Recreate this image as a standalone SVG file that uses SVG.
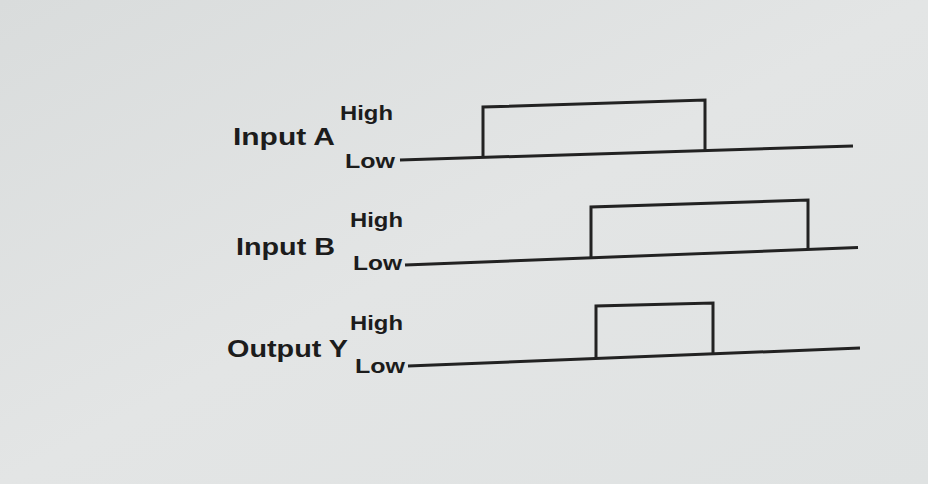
<svg xmlns="http://www.w3.org/2000/svg" width="928" height="484" viewBox="0 0 928 484">
<defs>
<linearGradient id="bg" x1="0" y1="0" x2="1" y2="1">
<stop offset="0" stop-color="#d9dcdc"/>
<stop offset="0.5" stop-color="#e3e5e5"/>
<stop offset="1" stop-color="#dfe2e2"/>
</linearGradient>
<style>
.lbl{font-family:"Liberation Sans",Arial,sans-serif;font-weight:bold;fill:#1c1c1c;font-size:24px}
.lvl{font-family:"Liberation Sans",Arial,sans-serif;font-weight:bold;fill:#1c1c1c;font-size:20px}
.wave{fill:none;stroke:#222;stroke-width:3;stroke-linejoin:miter}
</style>
</defs>
<rect x="0" y="0" width="928" height="484" fill="url(#bg)"/>
<g id="inputA">
<text class="lbl" x="233" y="145" textLength="102" lengthAdjust="spacingAndGlyphs">Input A</text>
<text class="lvl" x="340" y="120" textLength="53" lengthAdjust="spacingAndGlyphs">High</text>
<text class="lvl" x="345" y="168" textLength="50" lengthAdjust="spacingAndGlyphs">Low</text>
</g>
<g id="inputB">
<text class="lbl" x="236" y="255" textLength="99" lengthAdjust="spacingAndGlyphs">Input B</text>
<text class="lvl" x="350" y="227" textLength="53" lengthAdjust="spacingAndGlyphs">High</text>
<text class="lvl" x="353" y="270" textLength="49" lengthAdjust="spacingAndGlyphs">Low</text>
</g>
<g id="outputY">
<text class="lbl" x="227" y="357" textLength="121" lengthAdjust="spacingAndGlyphs">Output Y</text>
<text class="lvl" x="350" y="330" textLength="53" lengthAdjust="spacingAndGlyphs">High</text>
<text class="lvl" x="355" y="373" textLength="50" lengthAdjust="spacingAndGlyphs">Low</text>
</g>
<g id="connectors">
<line class="wave" x1="400" y1="160" x2="853" y2="146"/>
<polyline class="wave" points="483,157.4 483,107 705,100 705,150.5"/>
<line class="wave" x1="405" y1="265" x2="858" y2="247.5"/>
<polyline class="wave" points="591,257.8 591,207 808,200 808,249.4"/>
<line class="wave" x1="408" y1="366" x2="860" y2="348"/>
<polyline class="wave" points="596,358.5 596,306 713,303 713,353.9"/>
</g>
</svg>
